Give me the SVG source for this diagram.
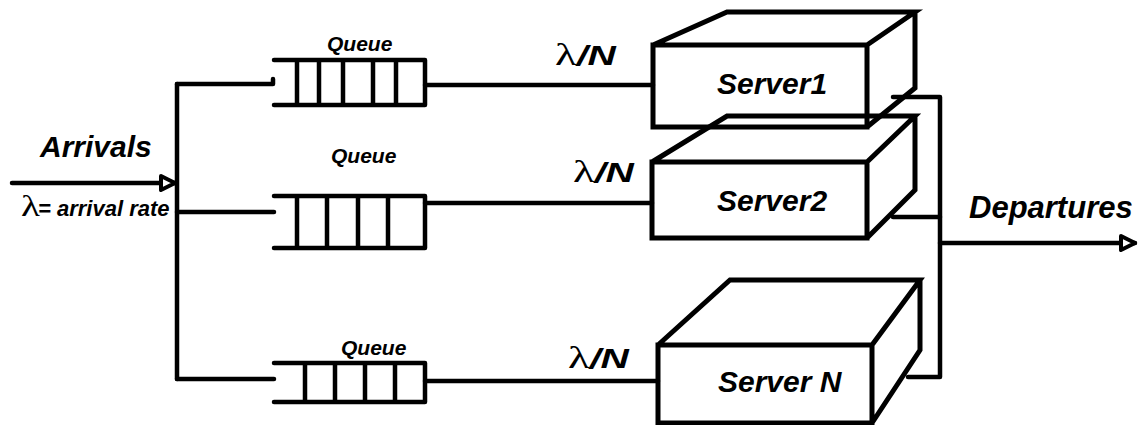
<svg xmlns="http://www.w3.org/2000/svg" width="1140" height="425" viewBox="0 0 1140 425">
<defs>
<style>
.ln{stroke:#000;stroke-width:4.5;fill:none;stroke-linecap:round;stroke-linejoin:round}
.bx{stroke:#000;stroke-width:5;fill:none;stroke-linejoin:miter}
.t{font-family:"Liberation Sans",Arial,sans-serif;font-weight:bold;font-style:italic;fill:#000}
.lam{font-family:"Liberation Serif","DejaVu Serif",serif;font-weight:normal;font-style:normal;fill:#000}
</style>
<marker id="ah" viewBox="0 0 20 20" refX="17" refY="10" markerWidth="20" markerHeight="20" markerUnits="userSpaceOnUse" orient="auto">
<path d="M3,3 L17,10 L3,17 Z" fill="#fff" stroke="#000" stroke-width="4" stroke-linejoin="round"/>
</marker>
</defs>
<rect width="1140" height="425" fill="#fff"/>

<g id="connectors">
<line class="ln" x1="12" y1="183" x2="175" y2="183" marker-end="url(#ah)"/>
<line class="ln" x1="177" y1="84" x2="177" y2="379"/>
<polyline class="ln" points="177,84 273,84 273,79"/>
<line class="ln" x1="177" y1="212" x2="274" y2="212"/>
<line class="ln" x1="177" y1="379" x2="274" y2="379"/>
<line class="ln" x1="425" y1="85" x2="653" y2="85"/>
<line class="ln" x1="425" y1="203" x2="652" y2="203"/>
<line class="ln" x1="425" y1="381" x2="658" y2="381"/>
<polyline class="ln" points="893,97 940,97 940,377 908,377"/>
<line class="ln" x1="893" y1="217" x2="940" y2="217"/>
<line class="ln" x1="940" y1="243" x2="1135" y2="243" marker-end="url(#ah)"/>
</g>

<g id="queue1">
<path class="ln" d="M274,60 H425 V105 H274 M297,60 V105 M319,60 V105 M343,60 V105 M373,60 V105 M396,60 V105"/>
<text class="t" x="327" y="51" font-size="21">Queue</text>
</g>
<g id="queue2">
<path class="ln" d="M274,196 H425 V248 H274 M297,196 V248 M327,196 V248 M358,196 V248 M388,196 V248"/>
<text class="t" x="331" y="163" font-size="21">Queue</text>
</g>
<g id="queue3">
<path class="ln" d="M274,363 H425 V402 H274 M305,363 V402 M335,363 V402 M365,363 V402 M395,363 V402"/>
<text class="t" x="341" y="355" font-size="21">Queue</text>
</g>

<g id="server1">
<path class="bx" d="M653,45 H867 V127 H653 Z M653,45 L727,12 H915 L867,45 M915,12 V88 L867,127"/>
<text class="t" x="717" y="94" font-size="30">Server1</text>
</g>
<g id="server2">
<path class="bx" d="M652,162 H867 V238 H652 Z M652,162 L727,116 H915 L867,162 M915,116 V190 L867,238"/>
<text class="t" x="717" y="211" font-size="30">Server2</text>
</g>
<g id="serverN">
<path class="bx" d="M658,345 H872 V423 H658 Z M658,345 L730,280 H920 L872,345 M920,280 V350 L872,423"/>
<text class="t" x="718" y="392" font-size="30">Server N</text>
</g>

<g id="labels">
<text class="t" x="40" y="157" font-size="30">Arrivals</text>
<text class="lam" transform="translate(21,216) scale(1.3,1)" font-size="30">λ</text>
<text class="t" x="38" y="216" font-size="22">= arrival rate</text>
<text class="t" x="969" y="218" font-size="31">Departures</text>
<text transform="translate(555,65) scale(1.4,1)"><tspan class="lam" font-size="32">λ</tspan><tspan class="t" font-size="28">/N</tspan></text>
<text transform="translate(573,182) scale(1.4,1)"><tspan class="lam" font-size="32">λ</tspan><tspan class="t" font-size="28">/N</tspan></text>
<text transform="translate(568,368) scale(1.4,1)"><tspan class="lam" font-size="32">λ</tspan><tspan class="t" font-size="28">/N</tspan></text>
</g>
</svg>
